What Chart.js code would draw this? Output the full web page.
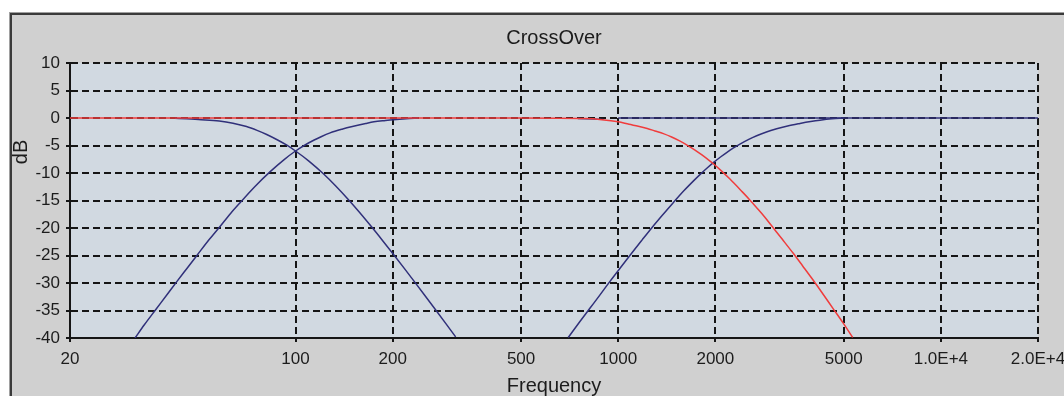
<!DOCTYPE html>
<html><head><meta charset="utf-8">
<script src="https://cdn.jsdelivr.net/npm/chart.js@4.4.0/dist/chart.umd.min.js"></script>
<style>html,body{margin:0;padding:0;background:#fff;overflow:hidden}</style>
</head><body>
<canvas id="c" width="1064" height="396"></canvas>
<script>
// ---- tick labels ----
const xTickValues = [20, 100, 200, 500, 1000, 2000, 5000, 10000, 20000];
const xTickLabels = ['20', '100', '200', '500', '1000', '2000', '5000', '1.0E+4', '2.0E+4'];
const yTickValues = [-40, -35, -30, -25, -20, -15, -10, -5, 0, 5, 10];

// ---- series (frequency in Hz, level in dB) ----
const hp1Freq = [31.8, 34, 36.7, 40, 42.8, 46, 49.6, 54, 58, 63, 67.3, 75, 83.3, 92, 100, 110, 120, 128, 140, 150, 165, 175, 190, 201, 220, 240];
const hp1Db   = [-40, -37.6, -35, -32.1, -29.8, -27.4, -24.9, -22.1, -19.9, -17.3, -15.4, -12.4, -9.8, -7.6, -6.0, -4.5, -3.4, -2.7, -2.0, -1.55, -1.0, -0.7, -0.45, -0.3, -0.12, 0];

const lp1Freq = [42.3, 46, 51, 58, 64, 70.5, 76, 81.4, 88, 94, 100, 110, 122, 133, 145.7, 158, 172, 186, 201, 217, 234.5, 252, 270.5, 292, 313.5];
const lp1Db   = [-0.05, -0.15, -0.3, -0.55, -0.95, -1.55, -2.25, -3.0, -4.0, -4.95, -6.0, -7.83, -10.14, -12.32, -14.82, -17.18, -19.78, -22.26, -24.77, -27.3, -29.89, -32.32, -34.73, -37.35, -39.8];

const lp2Freq = [20, 500, 800, 890, 1000, 1080, 1154, 1230, 1300, 1380, 1464, 1550, 1648, 1730, 1813, 1900, 1985, 2100, 2220, 2413, 2550, 2686, 2840, 2989, 3230, 3487, 3730, 3976, 4300, 4640, 4982, 5328];
const lp2Db   = [0, 0, -0.1, -0.3, -0.7, -1.15, -1.5, -1.9, -2.35, -2.84, -3.45, -4.17, -5.05, -5.82, -6.66, -7.56, -8.45, -9.75, -11.1, -13.3, -14.8, -16.3, -17.95, -19.6, -22.1, -24.6, -26.9, -29.1, -31.9, -34.7, -37.3, -39.9];

const midLpFreq = [750, 900];
const midLpDb   = [-0.1, -0.25];

const hp2Freq = [700, 760, 817, 877, 943, 1020, 1105, 1185, 1270, 1370, 1481, 1600, 1721, 1792, 1890, 1985, 2080, 2168, 2270, 2384, 2530, 2686, 2880, 3098, 3350, 3658, 3950, 4219, 4600, 5008];
const hp2Db   = [-39.9, -37.05, -34.6, -32.2, -29.7, -27.1, -24.45, -22.2, -20.0, -17.7, -15.4, -13.2, -11.3, -10.3, -9.05, -7.99, -7.05, -6.28, -5.49, -4.74, -3.93, -3.23, -2.54, -1.97, -1.45, -1.0, -0.65, -0.4, -0.15, 0];

const flatFreq = [1000, 20000];
const flatDb   = [0, 0];

const FONT = '"Liberation Sans", Arial, sans-serif';
const TXT = '#1c1c1c';
const NAVY = '#30307a';
const RED = '#f03c3c';
const GRID = '#151515';

const pts = (fs, ds) => fs.map((f, i) => ({x: f, y: ds[i]}));
const ds = (data, color, order) => ({
  data, borderColor: color, borderWidth: 1.5, pointRadius: 0, fill: false,
  cubicInterpolationMode: 'monotone', order
});

const framePlugin = {
  id: 'frame',
  beforeDraw(chart) {
    const {ctx, chartArea: a, width: W, height: H} = chart;
    ctx.save();
    ctx.fillStyle = '#ffffff'; ctx.fillRect(0, 0, W, H);
    ctx.fillStyle = '#d0d0d0'; ctx.fillRect(9, 12, W - 9, H - 12);
    ctx.fillStyle = '#a0a0a0'; ctx.fillRect(9, 12, W - 9, 1); ctx.fillRect(9, 12, 1, H - 12);
    ctx.fillStyle = '#3a3a3a'; ctx.fillRect(10, 13, W - 10, 2); ctx.fillRect(10, 13, 2, H - 13);
    ctx.fillStyle = '#d1d9e1'; ctx.fillRect(a.left, a.top, a.right - a.left, a.bottom - a.top);
    ctx.restore();
  },
  afterDraw(chart) {
    const ctx = chart.ctx;
    ctx.save();
    ctx.translate(21, 152);
    ctx.rotate(-Math.PI / 2);
    ctx.font = '20px ' + FONT;
    ctx.fillStyle = TXT;
    ctx.textAlign = 'center';
    ctx.textBaseline = 'middle';
    ctx.fillText('dB', 0, 0);
    ctx.restore();
  }
};

new Chart(document.getElementById('c'), {
  type: 'line',
  data: {
    datasets: [
      ds(pts(lp2Freq, lp2Db), RED, 0),
      ds(pts(midLpFreq, midLpDb), NAVY, 1),
      ds(pts(lp1Freq, lp1Db), NAVY, 1),
      ds(pts(hp1Freq, hp1Db), NAVY, 1),
      ds(pts(hp2Freq, hp2Db), NAVY, 1),
      ds(pts(flatFreq, flatDb), NAVY, 1)
    ]
  },
  options: {
    responsive: false,
    animation: false,
    devicePixelRatio: 1,
    layout: {padding: {top: 26, right: 26, bottom: 0, left: 0}},
    plugins: {
      legend: {display: false},
      tooltip: {enabled: false},
      title: {
        display: true, text: 'CrossOver', color: TXT, fullSize: false,
        font: {family: FONT, size: 20, weight: 'normal', lineHeight: 1.2},
        padding: {top: 0, bottom: 13}
      }
    },
    scales: {
      x: {
        type: 'logarithmic', min: 20, max: 20000,
        afterBuildTicks(s) { s.ticks = xTickValues.map(v => ({value: v})); },
        afterFit(s) { s.height = 58; s.paddingLeft = 0; s.paddingRight = 0; },
        ticks: {
          autoSkip: false, maxRotation: 0, minRotation: 0, padding: 7, color: TXT,
          font: {family: FONT, size: 17},
          callback: (v) => { const i = xTickValues.indexOf(v); return i >= 0 ? xTickLabels[i] : ''; }
        },
        grid: {
          color: (c) => (c.tick && c.tick.value === 20) ? 'rgba(0,0,0,0)' : GRID,
          lineWidth: 2, tickLength: 4, tickColor: GRID, tickWidth: 2, tickBorderDash: []
        },
        border: {display: true, color: GRID, width: 2, dash: [7, 4]},
        title: {display: true, text: 'Frequency', color: TXT,
          font: {family: FONT, size: 20, lineHeight: 1}, padding: {top: 0, bottom: 0}}
      },
      y: {
        min: -40, max: 10,
        afterBuildTicks(s) { s.ticks = yTickValues.map(v => ({value: v})); },
        afterFit(s) { s.width = 70; s.paddingTop = 0; s.paddingBottom = 0; },
        ticks: {padding: 6, color: TXT, font: {family: FONT, size: 17}, callback: (v) => String(v)},
        grid: {
          color: (c) => (c.tick && c.tick.value === -40) ? 'rgba(0,0,0,0)' : GRID,
          lineWidth: 2, tickLength: 4, tickColor: GRID, tickWidth: 2, tickBorderDash: []
        },
        border: {display: true, color: GRID, width: 2, dash: [7, 4]},
        title: {display: false}
      }
    }
  },
  plugins: [framePlugin]
});
</script>
</body></html>
